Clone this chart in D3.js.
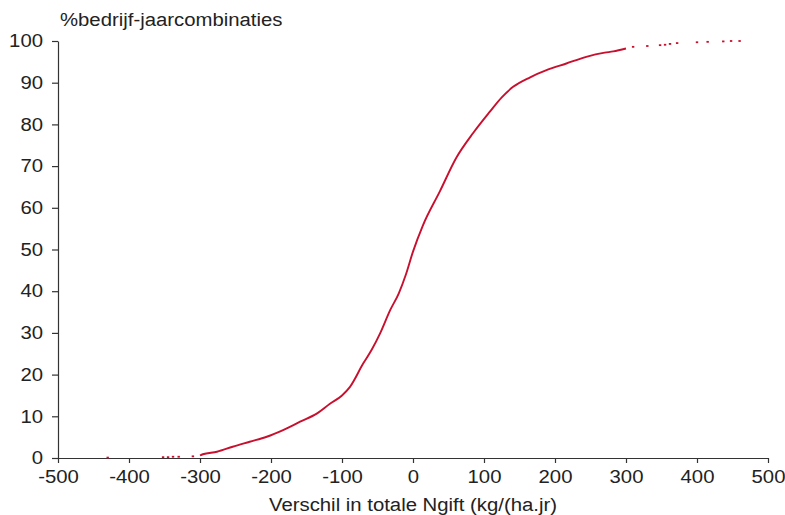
<!DOCTYPE html>
<html><head><meta charset="utf-8">
<script src="https://cdn.jsdelivr.net/npm/d3@7"></script>
<style>
html,body{margin:0;padding:0;background:#fff;}
svg text{font-family:"Liberation Sans",Arial,sans-serif;fill:#222;}
</style></head>
<body><svg id="c" width="785" height="515"></svg>
<script>
// Cumulative distribution: x = verschil (kg/(ha.jr)), y = % bedrijf-jaarcombinaties
const curveX = [-300,-296,-276,-254,-230,-206,-183,-159,-135,-117,-100,-89,-70,-58,-46,-32,-20,-10,0,14,38,61,85,108,125,141,165,188,216,244,270,282,300];
const curveY = [0.6,0.9,1.5,2.7,3.9,5.1,6.7,8.7,10.7,13,15,17,22.7,26,30,35.5,39.5,44,49.5,55.8,64,72,78,83,86.5,89,91.3,93,94.6,96.2,97.2,97.5,98.2];
// isolated points in the tails
const tailX = [-430,-352,-345,-338,-330,-310,310,330,348,355,362,372,400,415,437,448,460];
const tailY = [0.1,0.2,0.2,0.3,0.3,0.4,98.6,98.8,99.0,99.1,99.3,99.5,99.7,99.8,99.9,100,100];
const xTicks = [-500,-400,-300,-200,-100,0,100,200,300,400,500];
const yTicks = [0,10,20,30,40,50,60,70,80,90,100];
const yTitle = "%bedrijf-jaarcombinaties";
const xTitle = "Verschil in totale Ngift (kg/(ha.jr)";

const svg = d3.select("#c");
const x = d3.scaleLinear().domain([-500,500]).range([58,768]);
const y = d3.scaleLinear().domain([0,100]).range([458,41]);
const red = "#c8102e";
const FS = 18, SX = 1.13;

const gx = svg.append("g").attr("transform","translate(0,458)")
  .call(d3.axisBottom(x).tickValues(xTicks).tickFormat(d=>String(d)).tickSize(5).tickSizeOuter(0).tickPadding(7));
const gy = svg.append("g").attr("transform","translate(58,0)")
  .call(d3.axisLeft(y).tickValues(yTicks).tickFormat(d=>String(d)).tickSize(6).tickSizeOuter(0).tickPadding(9));
[gx,gy].forEach(g=>{
  g.selectAll("text").attr("font-size",FS).style("fill","#222");
  g.selectAll("path,line").attr("stroke","#333").attr("stroke-width",1.2);
});
gx.selectAll("text").attr("transform",`scale(${SX},1)`);
gy.selectAll("text").attr("x",0).attr("transform",`translate(-15,0) scale(${SX},1)`);

const pts = curveX.map((v,i)=>[v,curveY[i]]);
svg.append("path").datum(pts)
  .attr("d", d3.line().x(d=>x(d[0])).y(d=>y(d[1])).curve(d3.curveMonotoneX))
  .attr("fill","none").attr("stroke",red).attr("stroke-width",1.9);

svg.append("g").selectAll("rect").data(tailX.map((v,i)=>[v,tailY[i]])).join("rect")
  .attr("x",d=>x(d[0])-1.2).attr("y",d=>y(d[1])-0.9)
  .attr("width",2.4).attr("height",1.8).attr("fill",red);

svg.append("text").attr("transform",`translate(60,26) scale(${SX},1)`).attr("font-size",FS).text(yTitle);
svg.append("text").attr("transform",`translate(413,511) scale(${SX},1)`).attr("text-anchor","middle").attr("font-size",FS).text(xTitle);
</script></body></html>
